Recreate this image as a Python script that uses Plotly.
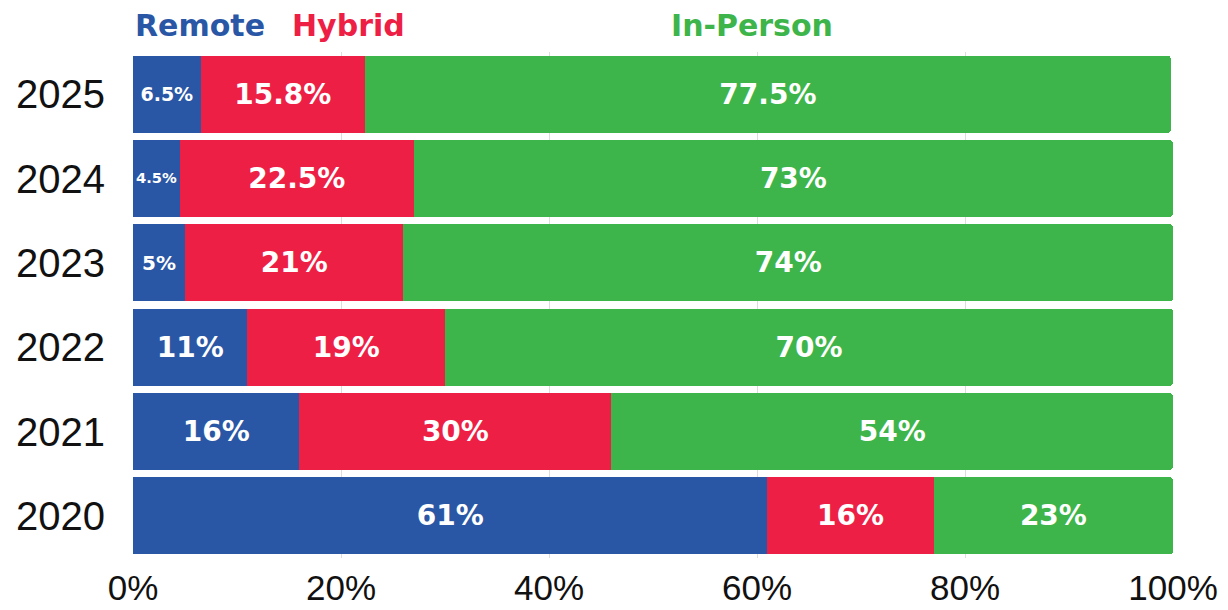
import plotly.graph_objects as go

years = ["2020", "2021", "2022", "2023", "2024", "2025"]
remote = [61, 16, 11, 5, 4.5, 6.5]
hybrid = [16, 30, 19, 21, 22.5, 15.8]
in_person = [23, 54, 70, 74, 73, 77.5]
tick_vals = [0, 20, 40, 60, 80, 100]
tick_text = ["0%", "20%", "40%", "60%", "80%", "100%"]

series = [
    ("Remote", remote, "#2A57A5", [28, 28, 28, 20, 15, 19]),
    ("Hybrid", hybrid, "#EE1F45", [28] * 6),
    ("In-Person", in_person, "#3DB54A", [28] * 6),
]

LABEL_FONT = "DejaVu Sans"

fig = go.Figure()
for name, vals, color, sizes in series:
    fig.add_trace(go.Bar(
        y=years, x=vals, name=name, orientation="h",
        marker=dict(color=color, line=dict(width=0)),
        text=[f"{v:g}%" for v in vals],
        textposition="inside", insidetextanchor="middle", textangle=0,
        textfont=dict(family=LABEL_FONT, color="white", size=sizes, weight="bold"),
        hoverinfo="skip",
    ))

fig.update_layout(
    barmode="stack",
    bargap=0.085,
    barcornerradius=4,
    width=1228, height=610,
    margin=dict(l=133, r=55, t=52, b=52, autoexpand=False),
    plot_bgcolor="white", paper_bgcolor="white",
    showlegend=False,
    xaxis=dict(range=[0, 100], tickvals=tick_vals, ticktext=tick_text,
               showgrid=True, gridcolor="#DDDDDD", gridwidth=1, zeroline=False,
               showline=False, ticks="", ticklabelstandoff=6, automargin=False,
               tickfont=dict(family="Liberation Sans", size=35, color="#111")),
    yaxis=dict(type="category", showgrid=False, zeroline=False, showline=False,
               ticks="", ticklabelstandoff=27, automargin=False,
               tickfont=dict(family="Liberation Sans", size=40, color="#111")),
    annotations=[
        dict(text="Remote", x=0, xanchor="left", y=1.053, yanchor="middle",
             xref="paper", yref="paper", showarrow=False,
             font=dict(family=LABEL_FONT, size=30, color="#2A57A5", weight="bold")),
        dict(text="Hybrid", x=0.151, xanchor="left", y=1.053, yanchor="middle",
             xref="paper", yref="paper", showarrow=False,
             font=dict(family=LABEL_FONT, size=30, color="#EE1F45", weight="bold")),
        dict(text="In-Person", x=0.595, xanchor="center", y=1.053, yanchor="middle",
             xref="paper", yref="paper", showarrow=False,
             font=dict(family=LABEL_FONT, size=30, color="#3DB54A", weight="bold")),
    ],
)

fig.write_html("out.html", config={"displayModeBar": False},
               post_script="document.body.style.margin='0';")
